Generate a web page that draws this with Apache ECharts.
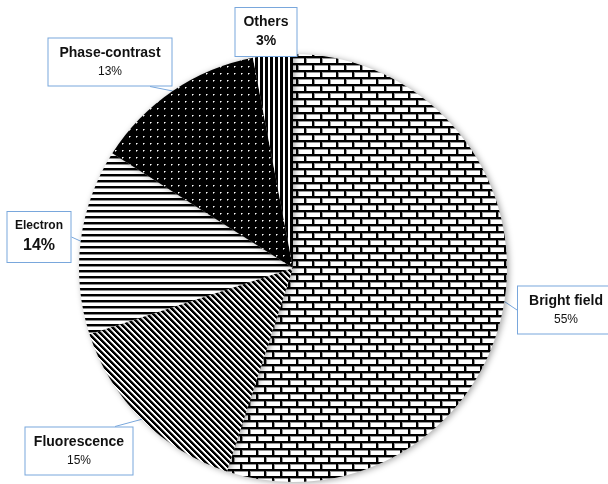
<!DOCTYPE html>
<html>
<head>
<meta charset="utf-8">
<script src="https://cdn.jsdelivr.net/npm/echarts@6/dist/echarts.min.js"></script>
<style>html,body{margin:0;padding:0;background:#fff}#c{width:608px;height:484px}</style>
</head>
<body>
<div id="c"></div>
<script>
const categories = ['Bright field', 'Fluorescence', 'Electron', 'Phase-contrast', 'Others'];
const values = [55, 15, 14, 13, 3];
const labelTexts = [
  '{b|Bright field}\n{n|55%}',
  '{b|Fluorescence}\n{n|15%}',
  '{s|Electron}\n{L|14%}',
  '{b|Phase-contrast}\n{n|13%}',
  '{b|Others}\n{b|3%}'
];

function tile(w, h, fn) {
  const c = document.createElement('canvas');
  c.width = w; c.height = h;
  const ctx = c.getContext('2d');
  const img = ctx.createImageData(w, h);
  for (let y = 0; y < h; y++) for (let x = 0; x < w; x++) {
    const v = fn(x, y);
    const i = (y * w + x) * 4;
    img.data[i] = img.data[i + 1] = img.data[i + 2] = v; img.data[i + 3] = 255;
  }
  ctx.putImageData(img, 0, 0);
  return c;
}
const brick = tile(16, 14, (x, y) => {
  const row = y < 7 ? 0 : 1;
  const yy = y % 7;
  const xx = (x + row * 8) % 16;
  if (yy < 2) return 0;
  if (xx < 2) return 0;
  if (yy === 2 || xx === 2) return 150;
  return 255;
});
const diag = tile(6, 6, (x, y) => {
  const d = ((x - y) % 6 + 6) % 6;
  if (d < 3) return 0;
  if (d === 3) return 150;
  return 255;
});
const horiz = tile(4, 6, (x, y) => (y < 2 ? 0 : (y === 2 ? 140 : 255)));
const dots = tile(7, 7, (x, y) => {
  if (x === 3 && y === 3) return 255;
  if ((x === 4 && y === 3) || (x === 3 && y === 4)) return 140;
  return 0;
});
const vert = tile(5, 4, (x, y) => (x < 3 ? 0 : 255));
const patterns = [brick, diag, horiz, dots, vert];

// label box layout: centre, width, and which side the leader attaches to
const boxCenters = [[566, 310], [79, 451], [39, 237], [110, 62], [266, 32]];
const boxWidths = [84, 95, 51, 111, 49];
const leaderAttach = [['left', 0], ['top', 36], ['right', 0], ['bottom', 40], ['bottom', 0]];

const chart = echarts.init(document.getElementById('c'));
const blue = '#79a7dc';
chart.setOption({
  animation: false,
  series: [{
    type: 'pie',
    center: [293, 268],
    radius: 214,
    startAngle: 90,
    clockwise: true,
    avoidLabelOverlap: false,
    itemStyle: {
      borderWidth: 0,
      shadowBlur: 6,
      shadowColor: 'rgba(0,0,0,0.35)',
      shadowOffsetX: 2,
      shadowOffsetY: 1
    },
    emphasis: { disabled: true },
    label: {
      show: true,
      position: 'outside',
      backgroundColor: '#fff',
      borderColor: blue,
      borderWidth: 1,
      padding: [5, 6, 5, 6],
      align: 'center',
      rich: {
        b: { fontFamily: 'Liberation Sans, Arial', fontWeight: 'bold', fontSize: 14, lineHeight: 19, color: '#111', align: 'center' },
        n: { fontFamily: 'Liberation Sans, Arial', fontSize: 12, lineHeight: 18, color: '#111', align: 'center' },
        s: { fontFamily: 'Liberation Sans, Arial', fontWeight: 'bold', fontSize: 12, lineHeight: 18, color: '#111', align: 'center' },
        L: { fontFamily: 'Liberation Sans, Arial', fontWeight: 'bold', fontSize: 16, lineHeight: 22, color: '#111', align: 'center' }
      }
    },
    labelLine: {
      show: true,
      length: 10,
      length2: 8,
      smooth: false,
      lineStyle: { color: blue, width: 1 }
    },
    labelLayout: function (p) {
      const i = p.dataIndex;
      const c = boxCenters[i];
      const w = p.labelRect.width, h = p.labelRect.height;
      const a = leaderAttach[i];
      let end;
      if (a[0] === 'left') end = [c[0] - w / 2, c[1] + a[1]];
      else if (a[0] === 'right') end = [c[0] + w / 2, c[1] + a[1]];
      else if (a[0] === 'top') end = [c[0] + a[1], c[1] - h / 2];
      else end = [c[0] + a[1], c[1] + h / 2];
      const start = p.labelLinePoints ? p.labelLinePoints[0] : end;
      return {
        x: c[0], y: c[1], align: 'center', verticalAlign: 'middle',
        labelLinePoints: [start, end]
      };
    },
    data: categories.map((name, i) => ({
      name: name,
      value: values[i],
      itemStyle: { color: { image: patterns[i], repeat: 'repeat' } },
      label: { formatter: labelTexts[i], width: boxWidths[i] }
    }))
  }]
});
</script>
</body>
</html>
